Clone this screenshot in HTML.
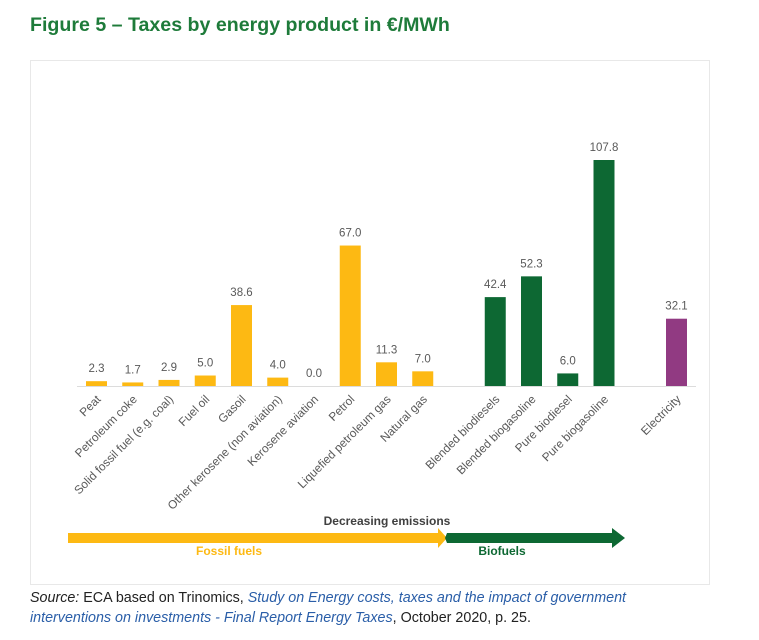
<!DOCTYPE html>
<html><head><meta charset="utf-8"><style>
body{margin:0;background:#fff;width:759px;height:640px;overflow:hidden;font-family:"Liberation Sans",sans-serif}
#title{position:absolute;left:30px;top:14px;font-size:19.6px;font-weight:bold;color:#1e7b3a}
#box{position:absolute;left:30px;top:60px;width:678px;height:523px;border:1px solid #e8e8e8}
#src{position:absolute;left:30px;top:588px;font-size:14.3px;line-height:20px;color:#222}
#src i.l{color:#2a5ea8}
</style></head><body>
<div id="title">Figure 5 – Taxes by energy product in €/MWh</div>
<div id="box"></div>
<svg id="chart" width="759" height="640" style="position:absolute;left:0;top:0"></svg>
<div id="src"><i>Source:</i> ECA based on Trinomics, <i class="l">Study on Energy costs, taxes and the impact of government<br>interventions on investments - Final Report Energy Taxes</i>, October 2020, p. 25.</div>
<script>
const categories=["Peat","Petroleum coke","Solid fossil fuel (e.g. coal)","Fuel oil","Gasoil","Other kerosene (non aviation)","Kerosene aviation","Petrol","Liquefied petroleum gas","Natural gas","Blended biodiesels","Blended biogasoline","Pure biodiesel","Pure biogasoline","Electricity"];
const values=[2.3,1.7,2.9,5.0,38.6,4.0,0.0,67.0,11.3,7.0,42.4,52.3,6.0,107.8,32.1];
const slots=[0,1,2,3,4,5,6,7,8,9,11,12,13,14,16];
const groups=["fossil","fossil","fossil","fossil","fossil","fossil","fossil","fossil","fossil","fossil","bio","bio","bio","bio","elec"];
const colors={fossil:"#fdb913",bio:"#0d6833",elec:"#913a82"};
const NS="http://www.w3.org/2000/svg";
const svg=document.getElementById('chart');
const base=386, scale=226/107.8;
const x=s=>96.5+s*36.25;
const y=v=>base-v*scale;
function mk(t,a){const e=document.createElementNS(NS,t);for(const k in a)e.setAttribute(k,a[k]);svg.appendChild(e);return e;}
const ax=mk('line',{x1:77,x2:696,y1:base+0.5,y2:base+0.5,stroke:'#dcdcdc','stroke-width':1});


values.forEach((v,i)=>{
 const cx=x(slots[i]);
 const r=mk('rect',{x:cx-10.5,y:y(v),width:21,height:base-y(v),fill:colors[groups[i]]});
 
 
 const t=mk('text',{x:cx,y:y(v)-9,'text-anchor':'middle','font-size':11.5,fill:'#595959','font-family':'Liberation Sans, sans-serif'});
 t.textContent=v.toFixed(1);
 
 
 const l=mk('text',{x:cx+5,y:400,'text-anchor':'end','font-size':11.8,fill:'#595959','font-family':'Liberation Sans, sans-serif',transform:`rotate(-45 ${cx+5} 400)`});
 l.textContent=categories[i];
 
 
});
const a1=mk('polygon',{points:'68,533 438,533 438,528 447,538 438,548 438,543 68,543',fill:'#fdb913'});


const a2=mk('polygon',{points:'447,533 612,533 612,528 625,538 612,548 612,543 447,543 445,538',fill:'#0d6833'});


const tx=[["Decreasing emissions",387,525,'#404040'],["Fossil fuels",229,555,'#fdb913'],["Biofuels",502,555,'#0d6833']];
tx.forEach(d=>{const t=mk('text',{x:d[1],y:d[2],'text-anchor':'middle','font-size':12,'font-weight':'bold',fill:d[3],'font-family':'Liberation Sans, sans-serif'});t.textContent=d[0];
 
 });
</script>
</body></html>
